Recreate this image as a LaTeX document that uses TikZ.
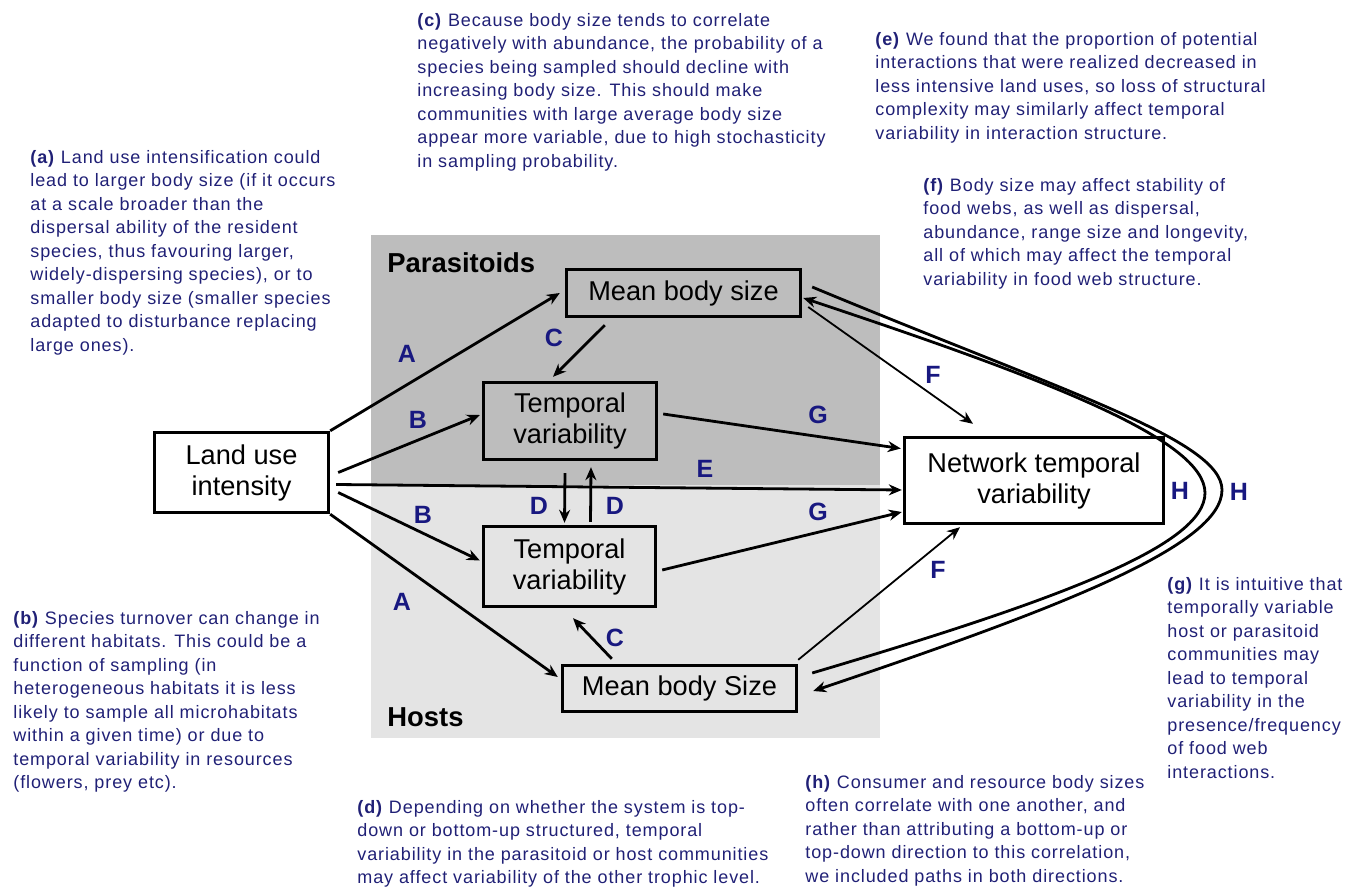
\documentclass[tikz,border=0pt]{standalone}
\usepackage{fontspec}
\setmainfont{Liberation Sans}
\newfontfamily\notefont[LetterSpace=5]{Liberation Sans}
\usetikzlibrary{arrows.meta}
\definecolor{notecol}{RGB}{32,32,118}
\definecolor{letcol}{RGB}{24,24,128}
\definecolor{paragray}{RGB}{189,189,189}
\definecolor{hostgray}{RGB}{228,228,228}

\begin{document}
\begin{tikzpicture}[
    x=0.5pt, y=-0.5pt,
    box/.style={draw, line width=1.7pt, align=center, inner sep=0pt, font=\fontsize{13.6}{15.5}\selectfont},
    note/.style={anchor=north west, align=left, inner sep=0pt, text=notecol, font=\notefont\fontsize{9}{11.75}\selectfont},
    lab/.style={text=letcol, inner sep=0pt, font=\bfseries\fontsize{12.5}{14}\selectfont},
    group/.style={anchor=north west, inner sep=0pt, font=\bfseries\fontsize{13.7}{15}\selectfont},
    arrow/.style={->, line width=1.4pt, >={Stealth[length=6.5pt,width=5.5pt]}},
    thin arrow/.style={arrow, line width=0.9pt}
]
    \useasboundingbox (0,0) rectangle (1356,888);

    % shaded trophic levels
    \fill[paragray] (371,235) rectangle (880,485);
    \fill[hostgray] (371,485) rectangle (880,738);
    \node[group] (para) at (387,252) {Parasitoids};
    \node[group] (hosts) at (387,707) {Hosts};

    % boxes
    \node[box, minimum width=87pt, minimum height=40pt] (land) at (241.5,472.5) {Land use\\intensity};
    \node[box, minimum width=117pt, minimum height=23.5pt] (pmbs) at (683.5,293) {Mean body size};
    \node[box, minimum width=86.5pt, minimum height=38.5pt] (ptv) at (570,421) {Temporal\\variability};
    \node[box, minimum width=86pt, minimum height=40pt] (htv) at (569.5,566.5) {Temporal\\variability};
    \node[box, minimum width=117pt, minimum height=23pt] (hmbs) at (679.5,688.5) {Mean body Size};
    \node[box, minimum width=129.5pt, minimum height=43pt] (net) at (1034,480.5) {Network temporal\\variability};

    % paths
    \draw[arrow] (land.north east) -- ([xshift=-2.5pt]pmbs.west);
    \draw[arrow] ([xshift=4pt]land.east) -- ([xshift=-1pt,yshift=3pt]ptv.west);
    \draw[arrow] ([xshift=3pt,yshift=-6pt]land.east) -- ([xshift=-0.5pt,yshift=-4.75pt]net.west);
    \draw[arrow] ([xshift=4pt,yshift=-10pt]land.east) -- ([xshift=-1pt,yshift=3pt]htv.west);
    \draw[arrow] (land.south east) -- ([xshift=-1.5pt,yshift=5.75pt]hmbs.west);
    \draw[arrow] ([xshift=20pt,yshift=-3.5pt]pmbs.south west) -- ([xshift=-8.5pt,yshift=2pt]ptv.north);
    \draw[arrow] ([xshift=25.5pt,yshift=2.5pt]hmbs.north west) -- ([xshift=1.75pt,yshift=-5pt]htv.south);
    \draw[arrow] ([xshift=-2.5pt,yshift=-6pt]ptv.south) -- ([xshift=-2.5pt,yshift=1pt]htv.north);
    \draw[arrow] ([xshift=10.5pt,yshift=1.5pt]htv.north) -- ([xshift=10.5pt,yshift=-3pt]ptv.south);
    \draw[arrow] ([xshift=2.5pt,yshift=3.5pt]ptv.east) -- ([xshift=-1pt,yshift=16pt]net.west);
    \draw[arrow] ([xshift=2.5pt,yshift=-1.75pt]htv.east) -- ([xshift=-0.5pt,yshift=-15.75pt]net.west);
    \draw[thin arrow] ([xshift=3pt,yshift=-7pt]pmbs.east) -- ([xshift=-30.5pt,yshift=6pt]net.north);
    \draw[thin arrow] ([yshift=2pt]hmbs.north east) -- ([xshift=-37pt,yshift=-1pt]net.south);
    \draw[arrow] ([xshift=5pt,yshift=3pt]pmbs.east) .. controls (1062,391) and (1222,440) .. (1222,490)
        .. controls (1222,545) and (1063,607) .. ([xshift=7.5pt,yshift=-1.25pt]hmbs.east);
    \draw[arrow] ([xshift=7pt,yshift=7.75pt]hmbs.east) .. controls (1062,599) and (1205,545) .. (1205,493)
        .. controls (1205,440) and (1050,380) .. ([xshift=0.5pt,yshift=-2.5pt]pmbs.east);

    % path letters
    \node[lab] (la1) at (407,354) {A};
    \node[lab] (la2) at (402,602) {A};
    \node[lab] (lb1) at (418,420) {B};
    \node[lab] (lb2) at (423,515) {B};
    \node[lab] (lc1) at (554,338) {C};
    \node[lab] (lc2) at (615,638) {C};
    \node[lab] (ld1) at (539,506) {D};
    \node[lab] (ld2) at (615,506) {D};
    \node[lab] (le) at (705,469) {E};
    \node[lab] (lf1) at (933,375) {F};
    \node[lab] (lf2) at (938,570) {F};
    \node[lab] (lg1) at (818,415) {G};
    \node[lab] (lg2) at (818,512) {G};
    \node[lab] (lh1) at (1180,491) {H};
    \node[lab] (lh2) at (1239,492) {H};

    % notes
    \node[note] (na) at (30,150) {\textbf{(a)} Land use intensification could\\lead to larger body size (if it occurs\\at a scale broader than the\\dispersal ability of the resident\\species, thus favouring larger,\\widely-dispersing species), or to\\smaller body size (smaller species\\adapted to disturbance replacing\\large ones).};
    \node[note] (nb) at (13,611) {\textbf{(b)} Species turnover can change in\\different habitats. This could be a\\function of sampling (in\\heterogeneous habitats it is less\\likely to sample all microhabitats\\within a given time) or due to\\temporal variability in resources\\(flowers, prey etc).};
    \node[note] (nc) at (417,13) {\textbf{(c)} Because body size tends to correlate\\negatively with abundance, the probability of a\\species being sampled should decline with\\increasing body size. This should make\\communities with large average body size\\appear more variable, due to high stochasticity\\in sampling probability.};
    \node[note] (nd) at (357,800) {\textbf{(d)} Depending on whether the system is top-\\down or bottom-up structured, temporal\\variability in the parasitoid or host communities\\may affect variability of the other trophic level.};
    \node[note] (ne) at (875,32) {\textbf{(e)} We found that the proportion of potential\\interactions that were realized decreased in\\less intensive land uses, so loss of structural\\complexity may similarly affect temporal\\variability in interaction structure.};
    \node[note] (nf) at (923,178) {\textbf{(f)} Body size may affect stability of\\food webs, as well as dispersal,\\abundance, range size and longevity,\\all of which may affect the temporal\\variability in food web structure.};
    \node[note] (ng) at (1167,577) {\textbf{(g)} It is intuitive that\\temporally variable\\host or parasitoid\\communities may\\lead to temporal\\variability in the\\presence/frequency\\of food web\\interactions.};
    \node[note] (nh) at (805,775) {\textbf{(h)} Consumer and resource body sizes\\often correlate with one another, and\\rather than attributing a bottom-up or\\top-down direction to this correlation,\\we included paths in both directions.};
\end{tikzpicture}
\end{document}
